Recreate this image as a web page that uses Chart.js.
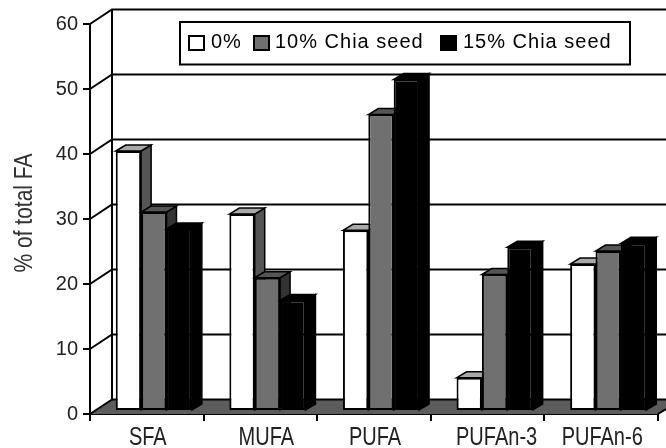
<!DOCTYPE html>
<html><head><meta charset="utf-8">
<style>html,body{margin:0;padding:0;background:#fff}canvas{display:block}</style>
<script src="https://cdn.jsdelivr.net/npm/chart.js@4"></script>
</head><body><canvas id="c" width="666" height="448"></canvas>
<script>
const categories = ["SFA","MUFA","PUFA","PUFAn-3","PUFAn-6"];
const seriesNames = ["0%","10% Chia seed","15% Chia seed"];
const control = [40,30.3,27.8,5.1,22.6];
const chia10 = [30.6,20.5,45.6,21,24.6];
const chia15 = [28,17,51,25.2,25.8];
const yTicks = [0,10,20,30,40,50,60];
const fills = ["#ffffff","#707070","#000000"];
const tops = ["#a9a9a9","#555555","#000000"];
const sides = ["#555555","#333333","#000000"];
const labelNudge = [1,6,1,9,1];
const sans = '"Liberation Sans",sans-serif';
const BACK = {dx:22, dy:-14.5}, SHIFT = {dx:7, dy:-3}, DEPTH = {dx:10, dy:-6};

function poly(ctx, pts, fill, stroke, lw){
  ctx.beginPath();
  pts.forEach((p,i)=> i?ctx.lineTo(p[0],p[1]):ctx.moveTo(p[0],p[1]));
  ctx.closePath();
  if(fill){ctx.fillStyle=fill;ctx.fill();}
  if(stroke){ctx.strokeStyle=stroke;ctx.lineWidth=lw||1.5;ctx.stroke();}
}
const threeD = {
  id:'threeD',
  beforeDatasetsDraw(chart){
    const {ctx,scales:{y},chartArea:a,width} = chart;
    ctx.save();
    const y0=y.getPixelForValue(0);
    poly(ctx,[[a.left,y0],[a.left+BACK.dx,y0+BACK.dy],[width,y0+BACK.dy],[width,y0-5],[a.right,y0]],'#5c5c5c');
    ctx.strokeStyle='#000';ctx.lineWidth=2;
    yTicks.forEach(v=>{
      const p=y.getPixelForValue(v);
      ctx.beginPath();ctx.moveTo(a.left,p);ctx.lineTo(a.left+BACK.dx,p+BACK.dy);
      if(v>0)ctx.lineTo(width,p+BACK.dy);
      ctx.stroke();
    });
    ctx.beginPath();
    ctx.moveTo(a.left+BACK.dx,y.getPixelForValue(60)+BACK.dy);
    ctx.lineTo(a.left+BACK.dx,y0+BACK.dy);
    ctx.lineTo(width,y0+BACK.dy);
    ctx.stroke();
    ctx.beginPath();ctx.moveTo(a.right,y0);ctx.lineTo(width,y0-5);ctx.stroke();
    ctx.restore();
  },
  beforeDatasetDraw(){ return false; },
  afterDatasetsDraw(chart){
    const {ctx}=chart;
    chart.data.datasets.forEach((d,i)=>{
      const meta=chart.getDatasetMeta(i);
      ctx.save();
      ctx.translate(SHIFT.dx,SHIFT.dy);
      meta.data.forEach(el=>{
        const {x,y,base,width}=el.getProps(['x','y','base','width'],true);
        const r=x+width/2,l=x-width/2;
        poly(ctx,[[r,y],[r+DEPTH.dx,y+DEPTH.dy],[r+DEPTH.dx,base+DEPTH.dy],[r,base]],sides[i],'#000',1.5);
        poly(ctx,[[l,y],[l+DEPTH.dx,y+DEPTH.dy],[r+DEPTH.dx,y+DEPTH.dy],[r,y]],tops[i],'#000',1.5);
      });
      meta.controller.draw();
      ctx.restore();
    });
    ctx.save();
    poly(ctx,[[180,22],[630,22],[630,64.5],[180,64.5]],'#fff','#000',2);
    ctx.font='20px '+sans;
    ctx.letterSpacing='1px';
    ctx.textBaseline='alphabetic';ctx.textAlign='left';
    const sw=[189,254,441], tx=[211,275,463];
    chart.data.datasets.forEach((d,i)=>{
      poly(ctx,[[sw[i],36],[sw[i]+15,36],[sw[i]+15,50],[sw[i],50]],fills[i],'#000',2);
      ctx.fillStyle='#000';
      ctx.fillText(d.label,tx[i],48);
    });
    ctx.restore();
  }
};
new Chart(document.getElementById('c'),{
  type:'bar',
  data:{labels:categories,datasets:[
    {label:seriesNames[0],data:control},
    {label:seriesNames[1],data:chia10},
    {label:seriesNames[2],data:chia15}
  ].map((d,i)=>({...d,backgroundColor:fills[i],borderColor:'#000',borderWidth:2,borderSkipped:false,
     barPercentage:1,categoryPercentage:0.67,clip:false}))},
  options:{
    responsive:false,animation:false,
    layout:{padding:{top:24,right:8,left:0,bottom:0}},
    plugins:{legend:{display:false},tooltip:{enabled:false}},
    scales:{
      x:{afterFit(s){s.height=34;},
        afterUpdate(s){
          const orig=s.drawLabels;
          s.drawLabels=function(area){
            const items=this.getLabelItems(area);
            if(!this._nudged){items.forEach((it,i)=>{it.options.translation[0]+=labelNudge[i];});this._nudged=true;}
            const c=this.ctx,b=this.top+12;
            c.save();c.translate(0,b);c.scale(1,1.25);c.translate(0,-b);
            orig.call(this,area);c.restore();
          };
        },
        grid:{drawOnChartArea:false,drawTicks:true,tickLength:7,color:'#000',lineWidth:2,offset:true},
        border:{color:'#000',width:2},
        ticks:{color:'#222',font:{family:sans,size:20},padding:3,maxRotation:0,autoSkip:false}},
      y:{min:0,max:60,afterFit(s){s.width=90;},
        afterBuildTicks(s){s.ticks=yTicks.map(v=>({value:v}));},
        afterUpdate(s){
          const orig=s.drawTitle;
          s.drawTitle=function(){
            const c=this.ctx;
            c.save();c.translate(33,-3);c.scale(1.12,1);c.translate(-33,0);
            orig.call(this);c.restore();
          };
        },
        grid:{drawOnChartArea:false,drawTicks:true,tickLength:7,color:'#000',lineWidth:2},
        border:{color:'#000',width:2},
        ticks:{color:'#222',font:{family:sans,size:20},padding:5},
        title:{display:true,text:'% of total FA',color:'#333',font:{family:sans,size:21},padding:{top:14,bottom:0}}}
    }
  },
  plugins:[threeD]
});
</script></body></html>
